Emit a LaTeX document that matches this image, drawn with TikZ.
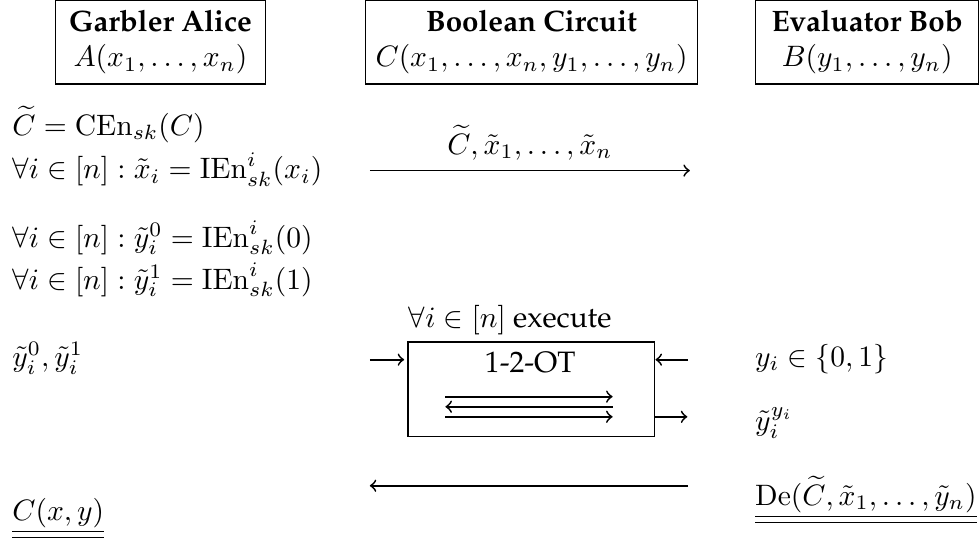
\documentclass[tikz,border=0pt]{standalone}
\usepackage[T1]{fontenc}
\usepackage{palatino}
\usepackage{amsmath}
\usepackage{tikz}

\tikzset{
    party/.style={draw, rectangle, minimum height=1cm, align=center},
    txt/.style={anchor=base west, inner sep=0pt},
    msg/.style={->, semithick}
}

\begin{document}
\begin{tikzpicture}
    \useasboundingbox (0,0) rectangle (11.65,-6.44);

    % Parties
    \node[party, minimum width=2.49cm] (alice) at (1.91,-0.50) {\textbf{Garbler Alice}\\ $A(x_1,\ldots,x_n)$};
    \node[party, minimum width=3.84cm] (circ) at (6.325,-0.50) {\textbf{Boolean Circuit}\\ $C(x_1,\ldots,x_n,y_1,\ldots,y_n)$};
    \node[party, minimum width=2.65cm] (bob) at (10.32,-0.50) {\textbf{Evaluator Bob}\\ $B(y_1,\ldots,y_n)$};

    % Garbling on Alice's side
    \node[txt] (cenc) at (0.14,-1.61) {$\widetilde{C} = \mathrm{CEn}_{sk}(C)$};
    \node[txt] (xenc) at (0.14,-2.13) {$\forall i \in [n] : \tilde{x}_i = \mathrm{IEn}^i_{sk}(x_i)$};
    \node[txt] (yenc0) at (0.14,-2.94) {$\forall i \in [n] : \tilde{y}^0_i = \mathrm{IEn}^i_{sk}(0)$};
    \node[txt] (yenc1) at (0.14,-3.44) {$\forall i \in [n] : \tilde{y}^1_i = \mathrm{IEn}^i_{sk}(1)$};
    \node[txt] (ypair) at (0.14,-4.36) {$\tilde{y}^0_i, \tilde{y}^1_i$};
    \node[txt] (result) at (0.14,-6.19) {$\underline{\underline{C(x,y)}}$};

    % Bob's side
    \node[txt] (ychoice) at (8.98,-4.36) {$y_i \in \{0,1\}$};
    \node[txt] (ygot) at (8.98,-5.12) {$\tilde{y}^{y_i}_i$};
    \node[txt] (decode) at (8.98,-6.01) {$\underline{\underline{\mathrm{De}(\widetilde{C}, \tilde{x}_1, \ldots, \tilde{y}_n)}}$};

    % Oblivious transfer
    \node[txt] (loop) at (4.86,-3.90) {$\forall i \in [n]$ execute};
    \node[draw, rectangle, minimum width=2.93cm, minimum height=1.12cm] (ot) at (6.32,-4.63) {};
    \node (otname) at (6.31,-4.31) {1-2-OT};

    % Arrow ends
    \coordinate (sendA) at (4.40,-2.03);
    \coordinate (sendB) at (8.21,-2.03);
    \coordinate (inA) at (4.40,-4.28);
    \coordinate (inAend) at (4.81,-4.28);
    \coordinate (inB) at (8.19,-4.28);
    \coordinate (inBend) at (7.80,-4.28);
    \coordinate (outB) at (7.79,-4.96);
    \coordinate (outBend) at (8.18,-4.96);
    \coordinate (backB) at (8.19,-5.78);
    \coordinate (backA) at (4.40,-5.78);
    \coordinate (m1a) at (5.30,-4.72);
    \coordinate (m1b) at (7.29,-4.72);
    \coordinate (m2a) at (5.30,-4.84);
    \coordinate (m2b) at (7.29,-4.84);
    \coordinate (m3a) at (5.30,-4.96);
    \coordinate (m3b) at (7.29,-4.96);

    % Arrows
    \draw[msg] (sendA) -- node[above] {$\widetilde{C}, \tilde{x}_1, \ldots, \tilde{x}_n$} (sendB);
    \draw[msg] (inA) -- (inAend);
    \draw[msg] (inB) -- (inBend);
    \draw[msg] (outB) -- (outBend);
    \draw[msg] (m1a) -- (m1b);
    \draw[msg] (m2b) -- (m2a);
    \draw[msg] (m3a) -- (m3b);
    \draw[msg] (backB) -- (backA);
\end{tikzpicture}
\end{document}
